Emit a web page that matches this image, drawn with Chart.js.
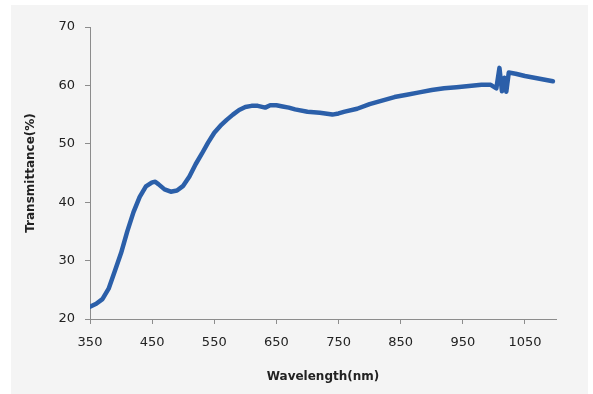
<!DOCTYPE html>
<html>
<head>
<meta charset="utf-8">
<script src="https://cdn.jsdelivr.net/npm/chart.js@4"></script>
<style>
  body { margin: 0; background: #fff; }
  #panel { position: absolute; left: 11px; top: 5px; width: 577px; height: 389px; background: #f4f4f4; }
  #wrap { position: absolute; left: 0; top: 0; width: 593px; height: 394px; }
</style>
</head>
<body>
<div id="panel"></div>
<div id="wrap"><canvas id="chart" width="593" height="394"></canvas></div>
<script>
// ------------------- Data ------------------- //

// Wavelength (nm)
const wavelengths = [
  350, 360, 370, 380, 390, 400, 410, 420, 430, 440, 450, 455, 460, 470, 480,
  490, 500, 510, 520, 530, 540, 550, 560, 570, 580, 590, 600, 610, 620, 632,
  640, 650, 660, 670, 680, 700, 720, 740, 750, 760, 780, 800, 820, 840, 860,
  880, 900, 920, 940, 960, 980, 995, 1004, 1009, 1013, 1017, 1020, 1024, 1035,
  1050, 1065, 1080, 1095
];

// Transmittance (%) at each wavelength
const transmittance = [
  22.1, 22.6, 23.4, 25.2, 28.2, 31.3, 35.0, 38.3, 40.9, 42.7, 43.4, 43.5, 43.1, 42.2, 41.8,
  42.0, 42.8, 44.4, 46.5, 48.3, 50.2, 51.9, 53.1, 54.1, 55.0, 55.8, 56.3, 56.5, 56.5, 56.2,
  56.6, 56.6, 56.4, 56.2, 55.9, 55.5, 55.3, 55.0, 55.2, 55.5, 56.0, 56.8, 57.4, 58.0, 58.4,
  58.8, 59.2, 59.5, 59.7, 59.9, 60.1, 60.1, 59.5, 63.0, 59.0, 61.3, 58.9, 62.2, 62.0,
  61.6, 61.3, 61.0, 60.7
];

const xTicks = [350, 450, 550, 650, 750, 850, 950, 1050];
const yTicks = [20, 30, 40, 50, 60, 70];

// ------------------- Chart ------------------- //

const axisColor = "#8c8c8c";
const tickFont = { family: "DejaVu Sans", size: 13 };
const titleFont = { family: "DejaVu Sans", size: 12, weight: "bold" };

const points = wavelengths.map((w, i) => ({ x: w, y: transmittance[i] }));

new Chart(document.getElementById("chart"), {
  type: "line",
  data: {
    datasets: [
      {
        data: points,
        borderColor: "#2b5fa9",
        borderWidth: 4.5,
        pointRadius: 0,
        tension: 0,
        borderCapStyle: "round",
        borderJoinStyle: "round",
      },
    ],
  },
  options: {
    responsive: false,
    animation: false,
    layout: { padding: { left: 0, right: 37, top: 27, bottom: 0 } },
    plugins: { legend: { display: false }, tooltip: { enabled: false } },
    scales: {
      x: {
        type: "linear",
        min: 350,
        max: 1100,
        afterBuildTicks: (s) => { s.ticks = xTicks.map((v) => ({ value: v })); },
        afterFit: (s) => { s.height = 75; },
        grid: { drawOnChartArea: false, color: axisColor, tickLength: 5 },
        border: { color: axisColor },
        ticks: {
          color: "#222",
          font: tickFont,
          padding: 11,
          maxRotation: 0,
          callback: (v) => String(v),
        },
        title: {
          display: true,
          text: "Wavelength(nm)",
          color: "#222",
          font: titleFont,
          padding: { top: 0, bottom: 10 },
        },
      },
      y: {
        min: 20,
        max: 70,
        afterBuildTicks: (s) => { s.ticks = yTicks.map((v) => ({ value: v })); },
        afterFit: (s) => { s.width = 90; },
        grid: { drawOnChartArea: false, color: axisColor, tickLength: 5 },
        border: { color: axisColor },
        ticks: { color: "#222", font: tickFont, padding: 10, callback: (v) => String(v) },
        title: {
          display: true,
          text: "Transmittance(%)",
          color: "#222",
          font: titleFont,
          padding: { top: 24, bottom: 0 },
        },
      },
    },
  },
});
</script>
</body>
</html>
